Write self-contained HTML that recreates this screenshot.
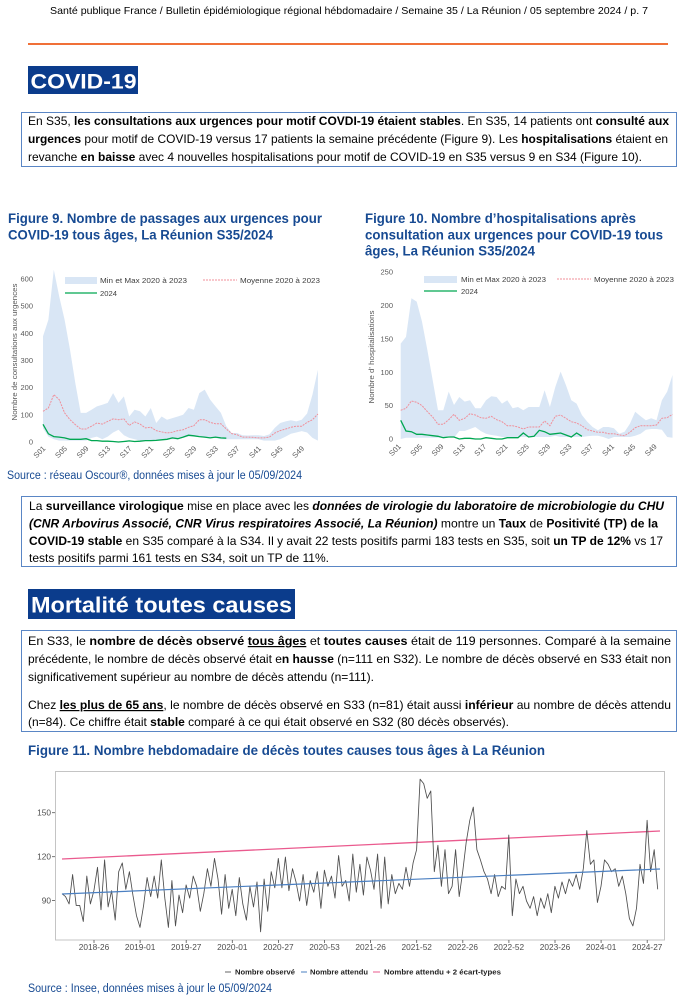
<!DOCTYPE html>
<html><head><meta charset="utf-8"><style>
html,body{margin:0;padding:0;background:#fff;}
svg{display:block;}
text{font-family:"Liberation Sans",Arial,sans-serif;}
</style></head><body>
<svg width="697" height="1000" viewBox="0 0 697 1000" xmlns="http://www.w3.org/2000/svg">
<rect width="697" height="1000" fill="#fff"/>
<!-- header -->
<text x="50" y="14" font-size="10.5" fill="#000" textLength="598" lengthAdjust="spacingAndGlyphs">Santé publique France / Bulletin épidémiologique régional hébdomadaire / Semaine 35 / La Réunion / 05 septembre 2024 / p. 7</text>
<line x1="28" y1="44" x2="668" y2="44" stroke="#f07038" stroke-width="2"/>
<!-- COVID title -->
<rect x="28" y="66" width="110" height="28" fill="#0b3c8c"/>
<text x="30.5" y="88.3" font-size="21" font-weight="bold" fill="#fff" textLength="106" lengthAdjust="spacingAndGlyphs">COVID-19</text>
<!-- box 1 -->
<rect x="21.5" y="112.5" width="655" height="54" fill="none" stroke="#5a86c5" stroke-width="1"/>
<g font-size="12" fill="#000">
<text x="28" y="125" textLength="641" lengthAdjust="spacingAndGlyphs">En S35, <tspan font-weight="bold">les consultations aux urgences pour motif COVDI-19 étaient stables</tspan>. En S35, 14 patients ont <tspan font-weight="bold">consulté aux</tspan></text>
<text x="28" y="143" textLength="640" lengthAdjust="spacingAndGlyphs"><tspan font-weight="bold">urgences</tspan> pour motif de COVID-19 versus 17 patients la semaine précédente (Figure 9). Les <tspan font-weight="bold">hospitalisations</tspan> étaient en</text>
<text x="28" y="161" textLength="614" lengthAdjust="spacingAndGlyphs">revanche <tspan font-weight="bold">en baisse</tspan> avec 4 nouvelles hospitalisations pour motif de COVID-19 en S35 versus 9 en S34 (Figure 10).</text>
</g>
<!-- Fig 9 title -->
<g font-size="13.5" font-weight="bold" fill="#174a92">
<text x="8" y="223" textLength="314" lengthAdjust="spacingAndGlyphs">Figure 9. Nombre de passages aux urgences pour</text>
<text x="8" y="239.5" textLength="265" lengthAdjust="spacingAndGlyphs">COVID-19 tous âges, La Réunion S35/2024</text>
</g>
<!-- Fig 10 title -->
<g font-size="13.5" font-weight="bold" fill="#174a92">
<text x="365" y="223" textLength="271" lengthAdjust="spacingAndGlyphs">Figure 10. Nombre d’hospitalisations après</text>
<text x="365" y="239.5" textLength="298" lengthAdjust="spacingAndGlyphs">consultation aux urgences pour COVID-19 tous</text>
<text x="365" y="255.5" textLength="170" lengthAdjust="spacingAndGlyphs">âges, La Réunion S35/2024</text>
</g>

<!-- Fig 9 chart -->
<polygon fill="#d9e6f5" points="43,336.3 48.4,319.7 53.8,269.7 59.2,296.4 64.6,319.7 70,349.6 75.3,383 80.7,412.9 86.1,412.9 91.5,409.7 96.9,406.4 102.3,404.8 107.7,402.9 113.1,393.1 118.5,402.9 123.9,396.4 129.2,416.5 134.6,409.7 140,411.3 145.4,416.5 150.8,408 156.2,423 161.6,416.5 167,419.7 172.4,418.1 177.8,416.5 183.1,414.8 188.5,408 193.9,409.7 199.3,393.1 204.7,389.6 210.1,399.6 215.5,406.4 220.9,412.9 226.3,426.2 231.7,433 237,433 242.4,435.2 247.8,435.5 253.2,435.2 258.6,435.2 264,436 269.4,434.4 274.8,427.9 280.2,423 285.6,421.4 290.9,420.3 296.3,421.4 301.7,419.7 307.1,413.5 312.5,394.5 317.9,369.7 317.9,440.6 312.5,437.9 307.1,432.5 301.7,431.1 296.3,432.5 290.9,433.8 285.6,436.6 280.2,439.3 274.8,440.6 269.4,440.6 264,440.6 258.6,439.3 253.2,439.3 247.8,439.3 242.4,439.3 237,439.3 231.7,439.3 226.3,439.3 220.9,439.3 215.5,437.9 210.1,437.9 204.7,437.9 199.3,436.6 193.9,436.6 188.5,436.6 183.1,437.9 177.8,439.3 172.4,439.3 167,439.3 161.6,439.3 156.2,440.6 150.8,440.6 145.4,440.6 140,440.6 134.6,439.3 129.2,437.9 123.9,435.2 118.5,429.8 113.1,432.5 107.7,436.6 102.3,439.3 96.9,436.6 91.5,437.9 86.1,440.6 80.7,440.6 75.3,440.6 70,440.6 64.6,440.6 59.2,440.6 53.8,439.3 48.4,436.6 43,428.4"/>
<polyline fill="none" stroke="#f08f9a" stroke-width="1" stroke-dasharray="2,1" points="43,411.3 48.4,408 53.8,394.7 59.2,399.6 64.6,412.9 70,419.7 75.3,424.6 80.7,429 86.1,429 91.5,426.2 96.9,423 102.3,424.1 107.7,421.4 113.1,418.9 118.5,419.7 123.9,418.9 129.2,425.4 134.6,421.9 140,424.1 145.4,427.9 150.8,427.3 156.2,430.6 161.6,431.9 167,433 172.4,432.2 177.8,430.6 183.1,429.8 188.5,427.3 193.9,425.7 199.3,419.7 204.7,419.7 210.1,422.4 215.5,423.8 220.9,423.8 226.3,429 231.7,433.6 237,434.7 242.4,437.1 247.8,437.1 253.2,437.4 258.6,437.9 264,437.9 269.4,437.1 274.8,433 280.2,430.6 285.6,429 290.9,427.3 296.3,426.2 301.7,426.2 307.1,422.4 312.5,419.7 317.9,414"/>
<polyline fill="none" stroke="#00a651" stroke-width="1.3" points="43,424.3 48.4,433.8 53.8,436.6 59.2,437.1 64.6,437.9 70,439.3 75.3,439.3 80.7,439.3 86.1,438.7 91.5,440.6 96.9,440.6 102.3,441.2 107.7,441.2 113.1,441.5 118.5,442 123.9,441.5 129.2,440.9 134.6,441.5 140,441.2 145.4,440.6 150.8,440.6 156.2,440.4 161.6,439.8 167,439.3 172.4,437.9 177.8,438.7 183.1,437.1 188.5,435.2 193.9,435.8 199.3,436.6 204.7,437.1 210.1,437.9 215.5,437.1 220.9,437.9 226.3,438.2"/>
<g font-size="7.5" fill="#595959" text-anchor="end">
<text x="33" y="281.5">600</text>
<text x="33" y="308.7">500</text>
<text x="33" y="335.9">400</text>
<text x="33" y="363">300</text>
<text x="33" y="390.2">200</text>
<text x="33" y="417.4">100</text>
<text x="33" y="444.5">0</text>
</g>
<text transform="translate(17,352) rotate(-90)" font-size="7" fill="#595959" text-anchor="middle" textLength="137" lengthAdjust="spacingAndGlyphs">Nombre de consultations aux urgences</text>
<g font-size="7.5" fill="#595959" text-anchor="end">
<text transform="translate(46,449) rotate(-45)">S01</text>
<text transform="translate(67.6,449) rotate(-45)">S05</text>
<text transform="translate(89.1,449) rotate(-45)">S09</text>
<text transform="translate(110.7,449) rotate(-45)">S13</text>
<text transform="translate(132.2,449) rotate(-45)">S17</text>
<text transform="translate(153.8,449) rotate(-45)">S21</text>
<text transform="translate(175.4,449) rotate(-45)">S25</text>
<text transform="translate(196.9,449) rotate(-45)">S29</text>
<text transform="translate(218.5,449) rotate(-45)">S33</text>
<text transform="translate(240,449) rotate(-45)">S37</text>
<text transform="translate(261.6,449) rotate(-45)">S41</text>
<text transform="translate(283.2,449) rotate(-45)">S45</text>
<text transform="translate(304.7,449) rotate(-45)">S49</text>
</g>
<rect x="65" y="277" width="32" height="7" fill="#d9e6f5"/>
<line x1="203" y1="280" x2="237" y2="280" stroke="#f08f9a" stroke-width="1" stroke-dasharray="2,1"/>
<line x1="65" y1="293" x2="97" y2="293" stroke="#00a651" stroke-width="1.3"/>
<g font-size="7.5" fill="#404040">
<text x="100" y="283" textLength="87" lengthAdjust="spacingAndGlyphs">Min et Max 2020 à 2023</text>
<text x="240" y="283" textLength="80" lengthAdjust="spacingAndGlyphs">Moyenne 2020 à 2023</text>
<text x="100" y="296" textLength="17" lengthAdjust="spacingAndGlyphs">2024</text>
</g>
<text x="7" y="479" font-size="11.5" fill="#174a92" textLength="295" lengthAdjust="spacingAndGlyphs">Source : réseau Oscour®, données mises à jour le 05/09/2024</text>

<!-- Fig 10 chart -->
<polygon fill="#d9e6f5" points="400.7,343.6 406,336.9 411.4,298.3 416.7,301.6 422,321.6 427.4,350.3 432.7,380.3 438,410.3 443.3,410.3 448.7,391.6 454,405 459.3,397 464.7,401.6 470,400.3 475.3,408.3 480.7,408.3 486,400.3 491.3,396.3 496.6,397 502,403.6 507.3,400.3 512.6,408.3 518,407 523.3,410.3 528.6,407 534,407 539.3,407 544.6,390.3 549.9,407 555.3,387 560.6,371.6 565.9,385 571.3,400.3 576.6,403.6 581.9,415 587.3,421.7 592.6,427 597.9,430.3 603.2,427 608.6,427 613.9,428.3 619.2,433.7 624.6,431.7 629.9,423.7 635.2,411.7 640.6,416.3 645.9,420.3 651.2,418.3 656.5,420.3 661.9,400.3 667.2,391.6 672.5,375 672.5,437.7 667.2,437 661.9,429.7 656.5,429 651.2,429 645.9,429.7 640.6,433.7 635.2,435.7 629.9,437 624.6,437 619.2,437 613.9,437 608.6,439 603.2,437 597.9,435.7 592.6,435.7 587.3,436.3 581.9,437 576.6,437 571.3,437 565.9,437 560.6,437 555.3,435.7 549.9,437 544.6,437 539.3,437 534,437 528.6,437 523.3,437 518,437 512.6,437 507.3,437 502,437 496.6,435.7 491.3,435 486,433.7 480.7,431 475.3,427 470,429 464.7,431 459.3,431 454,437.7 448.7,435.7 443.3,437.7 438,437.7 432.7,437.7 427.4,437.7 422,437.7 416.7,437.7 411.4,437.7 406,437.7 400.7,439"/>
<polyline fill="none" stroke="#f08f9a" stroke-width="1" stroke-dasharray="2,1" points="400.7,410.3 406,408.3 411.4,401 416.7,402.3 422,405.6 427.4,411.7 432.7,417 438,424.3 443.3,424.3 448.7,419.7 454,414.3 459.3,420.3 464.7,418.3 470,413.7 475.3,415 480.7,417.7 486,418.3 491.3,416.3 496.6,419.7 502,421.7 507.3,425.7 512.6,425.7 518,427 523.3,429 528.6,427 534,427 539.3,427 544.6,421 549.9,425.7 555.3,416.3 560.6,415 565.9,418.3 571.3,421.7 576.6,423 581.9,425.7 587.3,429.7 592.6,431 597.9,432.3 603.2,432.3 608.6,433.7 613.9,433.7 619.2,435 624.6,435.7 629.9,432.3 635.2,427.7 640.6,425.7 645.9,425.7 651.2,425.7 656.5,425 661.9,418.3 667.2,417.7 672.5,414.3"/>
<polyline fill="none" stroke="#00a651" stroke-width="1.3" points="400.7,420.3 406,431 411.4,431.7 416.7,434.3 422,434.3 427.4,435 432.7,435.7 438,436.3 443.3,437.7 448.7,437 454,437 459.3,439 464.7,438.3 470,438.3 475.3,439 480.7,439 486,437.7 491.3,438.3 496.6,439 502,439 507.3,437.7 512.6,437.7 518,437.7 523.3,433 528.6,437 534,436.3 539.3,430.3 544.6,431.7 549.9,434.3 555.3,433.7 560.6,433 565.9,435 571.3,437 576.6,433 581.9,436.3"/>
<g font-size="7.5" fill="#595959" text-anchor="end">
<text x="393" y="274.5">250</text>
<text x="393" y="308">200</text>
<text x="393" y="341.4">150</text>
<text x="393" y="374.8">100</text>
<text x="393" y="408.2">50</text>
<text x="393" y="441.5">0</text>
</g>
<text transform="translate(374,357) rotate(-90)" font-size="7" fill="#595959" text-anchor="middle" textLength="93" lengthAdjust="spacingAndGlyphs">Nombre d' hospitalisations</text>
<g font-size="7.5" fill="#595959" text-anchor="end">
<text transform="translate(401.5,447) rotate(-45)">S01</text>
<text transform="translate(422.8,447) rotate(-45)">S05</text>
<text transform="translate(444.1,447) rotate(-45)">S09</text>
<text transform="translate(465.5,447) rotate(-45)">S13</text>
<text transform="translate(486.8,447) rotate(-45)">S17</text>
<text transform="translate(508.1,447) rotate(-45)">S21</text>
<text transform="translate(529.4,447) rotate(-45)">S25</text>
<text transform="translate(550.7,447) rotate(-45)">S29</text>
<text transform="translate(572.1,447) rotate(-45)">S33</text>
<text transform="translate(593.4,447) rotate(-45)">S37</text>
<text transform="translate(614.7,447) rotate(-45)">S41</text>
<text transform="translate(636,447) rotate(-45)">S45</text>
<text transform="translate(657.3,447) rotate(-45)">S49</text>
</g>
<rect x="424" y="276" width="33" height="7" fill="#d9e6f5"/>
<line x1="557" y1="279" x2="591" y2="279" stroke="#f08f9a" stroke-width="1" stroke-dasharray="2,1"/>
<line x1="424" y1="291" x2="457" y2="291" stroke="#00a651" stroke-width="1.3"/>
<g font-size="7.5" fill="#404040">
<text x="461" y="282" textLength="85" lengthAdjust="spacingAndGlyphs">Min et Max 2020 à 2023</text>
<text x="594" y="282" textLength="80" lengthAdjust="spacingAndGlyphs">Moyenne 2020 à 2023</text>
<text x="461" y="294" textLength="17" lengthAdjust="spacingAndGlyphs">2024</text>
</g>

<!-- box 2 -->
<rect x="21.5" y="496.5" width="655" height="70" fill="none" stroke="#5a86c5" stroke-width="1"/>
<g font-size="12" fill="#000">
<text x="29" y="510" textLength="635" lengthAdjust="spacingAndGlyphs">La <tspan font-weight="bold">surveillance virologique</tspan> mise en place avec les <tspan font-weight="bold" font-style="italic">données de virologie du laboratoire de microbiologie du CHU</tspan></text>
<text x="29" y="527.5" textLength="629" lengthAdjust="spacingAndGlyphs"><tspan font-weight="bold" font-style="italic">(CNR Arbovirus Associé, CNR Virus respiratoires Associé, La Réunion)</tspan> montre un <tspan font-weight="bold">Taux</tspan> de <tspan font-weight="bold">Positivité (TP) de la</tspan></text>
<text x="29" y="545" textLength="634" lengthAdjust="spacingAndGlyphs"><tspan font-weight="bold">COVID-19 stable</tspan> en S35 comparé à la S34. Il y avait 22 tests positifs parmi 183 tests en S35, soit <tspan font-weight="bold">un TP de 12%</tspan> vs 17</text>
<text x="29" y="562" textLength="300" lengthAdjust="spacingAndGlyphs">tests positifs parmi 161 tests en S34, soit un TP de 11%.</text>
</g>

<!-- Mortalité title -->
<rect x="28" y="589" width="267" height="30" fill="#0b3c8c"/>
<text x="31" y="612.7" font-size="22" font-weight="bold" fill="#fff" textLength="261" lengthAdjust="spacingAndGlyphs">Mortalité toutes causes</text>

<!-- box 3 -->
<rect x="21.5" y="630.5" width="655" height="101" fill="none" stroke="#5a86c5" stroke-width="1"/>
<g font-size="12" fill="#000">
<text x="28" y="645" textLength="643" lengthAdjust="spacingAndGlyphs">En S33, le <tspan font-weight="bold">nombre de décès observé</tspan> <tspan font-weight="bold" text-decoration="underline">tous âges</tspan> et <tspan font-weight="bold">toutes causes</tspan> était de 119 personnes. Comparé à la semaine</text>
<text x="28" y="663" textLength="643" lengthAdjust="spacingAndGlyphs">précédente, le nombre de décès observé était e<tspan font-weight="bold">n hausse</tspan> (n=111 en S32). Le nombre de décès observé en S33 était non</text>
<text x="28" y="681" textLength="346" lengthAdjust="spacingAndGlyphs">significativement supérieur au nombre de décès attendu (n=111).</text>
<text x="28" y="709" textLength="643" lengthAdjust="spacingAndGlyphs">Chez <tspan font-weight="bold" text-decoration="underline">les plus de 65 ans</tspan>, le nombre de décès observé en S33 (n=81) était aussi <tspan font-weight="bold">inférieur</tspan> au nombre de décès attendu</text>
<text x="28" y="726" textLength="481" lengthAdjust="spacingAndGlyphs">(n=84). Ce chiffre était <tspan font-weight="bold">stable</tspan> comparé à ce qui était observé en S32 (80 décès observés).</text>
</g>

<!-- Fig 11 -->
<text x="28" y="755" font-size="13.5" font-weight="bold" fill="#174a92" textLength="517" lengthAdjust="spacingAndGlyphs">Figure 11. Nombre hebdomadaire de décès toutes causes tous âges à La Réunion</text>
<rect x="55.5" y="771.5" width="609" height="168.5" fill="#fff" stroke="#c4c4c4" stroke-width="1"/>
<g stroke="#555" stroke-width="0.8">
<line x1="52" y1="812.7" x2="55" y2="812.7"/>
<line x1="52" y1="856.7" x2="55" y2="856.7"/>
<line x1="52" y1="900.5" x2="55" y2="900.5"/>
<line x1="94" y1="940" x2="94" y2="943"/>
<line x1="140.1" y1="940" x2="140.1" y2="943"/>
<line x1="186.2" y1="940" x2="186.2" y2="943"/>
<line x1="232.3" y1="940" x2="232.3" y2="943"/>
<line x1="278.4" y1="940" x2="278.4" y2="943"/>
<line x1="324.5" y1="940" x2="324.5" y2="943"/>
<line x1="370.6" y1="940" x2="370.6" y2="943"/>
<line x1="416.7" y1="940" x2="416.7" y2="943"/>
<line x1="462.8" y1="940" x2="462.8" y2="943"/>
<line x1="508.9" y1="940" x2="508.9" y2="943"/>
<line x1="555" y1="940" x2="555" y2="943"/>
<line x1="601.1" y1="940" x2="601.1" y2="943"/>
<line x1="647.2" y1="940" x2="647.2" y2="943"/>
</g>
<g font-size="8.3" fill="#4d4d4d" text-anchor="end">
<text x="51" y="815.7">150</text>
<text x="51" y="859.7">120</text>
<text x="51" y="903.5">90</text>
</g>
<g font-size="8.3" fill="#4d4d4d" text-anchor="middle">
<text x="94" y="950">2018-26</text>
<text x="140.1" y="950">2019-01</text>
<text x="186.2" y="950">2019-27</text>
<text x="232.3" y="950">2020-01</text>
<text x="278.4" y="950">2020-27</text>
<text x="324.5" y="950">2020-53</text>
<text x="370.6" y="950">2021-26</text>
<text x="416.7" y="950">2021-52</text>
<text x="462.8" y="950">2022-26</text>
<text x="508.9" y="950">2022-52</text>
<text x="555" y="950">2023-26</text>
<text x="601.1" y="950">2024-01</text>
<text x="647.2" y="950">2024-27</text>
</g>
<line x1="62" y1="859" x2="660" y2="831" stroke="#ea5a8e" stroke-width="1.3"/>
<polyline fill="none" stroke="#4d4d4d" stroke-width="0.85" stroke-linejoin="round" points="62,893.7 65.5,896.6 69.1,903.9 72.6,874.6 76.2,905.4 79.7,905.4 83.3,921.5 86.8,876.1 90.4,903.9 93.9,890.7 97.5,867.3 101,909.8 104.6,859.9 108.1,906.9 111.6,890.7 115.2,920.1 118.7,871.7 122.3,862.9 125.8,889.3 129.4,871.7 132.9,895.1 136.5,915.7 140,927.4 143.6,905.4 147.1,877.5 150.7,896.6 154.2,876.1 157.7,898.1 161.3,859.9 164.8,898.1 168.4,927.4 171.9,880.5 175.5,925.9 179,895.1 182.6,912.7 186.1,884.9 189.7,898.1 193.2,876.1 196.7,886.3 200.3,911.3 203.8,893.7 207.4,868.7 210.9,886.3 214.5,858.4 218,879 221.6,914.2 225.1,874.6 228.7,908.3 232.2,889.3 235.8,915.7 239.3,877.5 242.8,903.9 246.4,920.1 249.9,886.3 253.5,906.9 257,881.9 260.6,931.8 264.1,879 267.7,911.3 271.2,871.7 274.8,887.8 278.3,858.4 281.9,887.8 285.4,857 288.9,890.7 292.5,868.7 296,881.9 299.6,901 303.1,874.6 306.7,905.4 310.2,880.5 313.8,892.2 317.3,871.7 320.9,908.3 324.4,870.2 327.9,886.3 331.5,876.1 335,898.1 338.6,855.5 342.1,886.3 345.7,880.5 349.2,901 352.8,854.1 356.3,892.2 359.9,864.3 363.4,895.1 366.9,857 370.5,870.2 374,889.3 377.6,854.1 381.1,908.3 384.7,857 388.2,903.9 391.8,874.6 395.3,893.7 398.9,883.4 402.4,889.3 406,867.3 409.5,886.3 413.1,862.9 416.6,849.7 420.1,779.2 423.7,783.6 427.2,798.3 430.8,791 434.3,871.7 437.9,845.3 441.4,886.3 445,849.7 448.5,893.7 452.1,886.3 455.6,849.7 459.2,896.6 462.7,871.7 466.2,842.3 469.8,820.3 473.3,807.1 476.9,849.7 480.4,859.9 484,871.7 487.5,879 491.1,893.7 494.6,874.6 498.2,896.6 501.7,886.3 505.3,889.3 508.8,835 512.3,915.7 515.9,879 519.4,893.7 523,886.3 526.5,901 530.1,908.3 533.6,896.6 537.2,915.7 540.7,898.1 544.3,908.3 547.8,893.7 551.3,912.7 554.9,886.3 558.4,898.1 562,881.9 565.5,893.7 569.1,879 572.6,886.3 576.2,874.6 579.7,889.3 583.3,868.7 586.8,830.6 590.4,864.3 593.9,859.9 597.4,902.5 601,886.3 604.5,859.9 608.1,864.3 611.6,871.7 615.2,868.7 618.7,886.3 622.3,876.1 625.8,893.7 629.4,918.6 632.9,925.9 636.5,908.3 640,864.3 643.5,883.4 647.1,820.3 650.6,871.7 654.2,849.7 657.7,889.3"/>
<line x1="62" y1="894" x2="660" y2="869" stroke="#4a7fc1" stroke-width="1.2"/>
<!-- legend fig 11 -->
<line x1="225" y1="972" x2="231" y2="972" stroke="#666" stroke-width="1"/>
<line x1="301" y1="972" x2="307" y2="972" stroke="#4a7fc1" stroke-width="1"/>
<line x1="373" y1="972" x2="380" y2="972" stroke="#ea5a8e" stroke-width="1"/>
<g font-size="7" font-weight="bold" fill="#222">
<text x="235" y="974.5" textLength="60" lengthAdjust="spacingAndGlyphs">Nombre observé</text>
<text x="310" y="974.5" textLength="58" lengthAdjust="spacingAndGlyphs">Nombre attendu</text>
<text x="384" y="974.5" textLength="117" lengthAdjust="spacingAndGlyphs">Nombre attendu  + 2 écart-types</text>
</g>
<text x="28" y="992" font-size="11.5" fill="#174a92" textLength="244" lengthAdjust="spacingAndGlyphs">Source : Insee, données mises à jour le 05/09/2024</text>
</svg>
</body></html>
